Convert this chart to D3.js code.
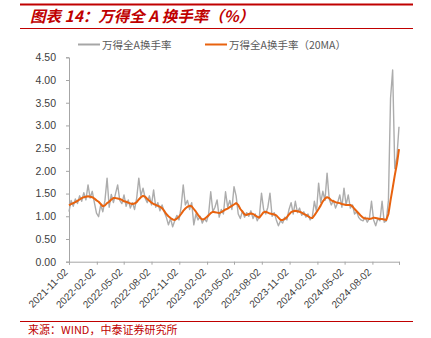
<!DOCTYPE html>
<html><head><meta charset="utf-8">
<script src="https://cdn.jsdelivr.net/npm/d3@7"></script>
<style>
html,body{margin:0;padding:0;background:#fff;}
svg{display:block;}
</style></head>
<body>
<svg id="c" width="431" height="338"></svg>
<script>
// ---- data (weekly readings from the picture) ----
const startDate = "2021-11-02";
const stepDays = 7;
const turnover = [
1.10,1.35,1.22,1.38,1.28,1.45,1.33,1.52,1.36,1.69,
1.40,1.55,1.30,1.07,0.99,1.25,1.10,1.35,1.84,1.20,
1.48,1.30,1.50,1.69,1.35,1.28,1.47,1.22,1.36,1.18,
1.30,1.15,1.40,1.84,1.45,1.62,1.40,1.30,1.45,1.25,
1.58,1.20,1.30,1.12,1.25,1.10,0.98,0.81,0.95,0.77,
0.90,1.02,0.92,1.20,1.69,1.25,1.35,1.15,1.30,0.81,
1.05,0.92,1.00,0.85,0.95,0.88,1.05,1.54,1.10,1.20,
1.36,0.98,1.15,1.05,1.54,1.20,1.35,1.15,1.65,1.45,
1.05,0.95,1.12,0.98,1.08,1.00,1.12,0.95,1.05,0.90,
1.00,1.51,1.15,1.05,1.20,1.51,1.00,1.08,0.92,0.79,
0.90,0.85,0.98,0.92,1.15,1.30,1.05,1.33,1.08,1.18,
1.02,1.10,0.98,1.05,0.92,0.98,1.33,1.10,1.73,1.30,
1.55,1.35,1.95,1.38,1.25,1.35,1.18,1.30,1.47,1.20,
1.62,1.25,1.47,1.18,1.25,1.05,1.10,0.97,0.92,0.90,
0.98,0.87,0.95,1.33,0.92,0.79,0.95,0.90,1.33,0.87,
0.90,1.35,3.60,4.22,2.05,2.30,2.97
];
const turnoverMA20 = [
1.24,1.27,1.29,1.31,1.34,1.37,1.40,1.42,1.43,1.44,
1.43,1.42,1.39,1.35,1.32,1.27,1.22,1.24,1.29,1.32,
1.37,1.40,1.40,1.39,1.38,1.36,1.33,1.32,1.30,1.28,
1.27,1.28,1.31,1.37,1.42,1.45,1.43,1.38,1.34,1.30,
1.27,1.25,1.23,1.21,1.18,1.12,1.05,1.00,0.96,0.93,
0.92,0.95,0.99,1.05,1.12,1.17,1.21,1.23,1.22,1.16,
1.10,1.03,0.97,0.93,0.94,0.98,1.02,1.07,1.10,1.09,
1.08,1.07,1.09,1.12,1.15,1.17,1.20,1.23,1.26,1.29,
1.25,1.16,1.10,1.04,1.03,1.05,1.06,1.05,1.02,0.99,
0.97,1.03,1.09,1.10,1.08,1.06,1.05,1.04,1.02,0.97,
0.92,0.92,0.94,0.98,1.04,1.09,1.11,1.12,1.11,1.10,
1.08,1.05,1.03,1.00,0.97,0.96,1.02,1.09,1.16,1.24,
1.33,1.39,1.42,1.40,1.35,1.33,1.31,1.30,1.29,1.27,
1.26,1.25,1.25,1.25,1.22,1.16,1.11,1.06,1.01,0.97,
0.95,0.95,0.94,0.95,0.97,0.96,0.95,0.94,0.94,0.93,
0.92,1.05,1.35,1.62,1.90,2.15,2.48
];
const xTickLabels = ["2021-11-02","2022-02-02","2022-05-02","2022-08-02","2022-11-02","2023-02-02",
  "2023-05-02","2023-08-02","2023-11-02","2024-02-02","2024-05-02","2024-08-02"];
const yTicks = [0,0.5,1,1.5,2,2.5,3,3.5,4,4.5];
const seriesNames = ["万得全A换手率","万得全A换手率（20MA）"];
const titleText = "图表 14：万得全 A 换手率（%）";
const sourceText = "来源：WIND，中泰证券研究所";

// ---- drawing ----
const parse = d3.timeParse("%Y-%m-%d");
const t0 = parse(startDate);
const dates = turnover.map((_, i) => d3.timeDay.offset(t0, i * stepDays));
const svg = d3.select("#c");
const red = "#c00000";
const numFont = "'Liberation Sans', Arial, sans-serif";
const cjkFont = "'Noto Sans CJK SC', sans-serif";

const plotL = 69, plotR = 399, plotT = 57.3, plotB = 261.7;
const x = d3.scaleTime().domain([t0, dates[dates.length - 1]]).range([plotL, plotR]);
const y = d3.scaleLinear().domain([0, 4.5]).range([plotB, plotT]);

// header
svg.append("line").attr("x1",20).attr("x2",413).attr("y1",4.5).attr("y2",4.5)
  .attr("stroke",red).attr("stroke-width",2);
svg.append("text").attr("x",30).attr("y",22).text(titleText)
  .attr("fill",red).attr("font-family",cjkFont).attr("font-size",15.5)
  .attr("font-weight","bold").attr("font-style","italic");
svg.append("line").attr("x1",20).attr("x2",413).attr("y1",28.5).attr("y2",28.5)
  .attr("stroke",red).attr("stroke-width",1);

// legend
const legend = [
  {name: seriesNames[0], color:"#a6a6a6", x:78},
  {name: seriesNames[1], color:"#e8620e", x:205}
];
legend.forEach(l => {
  svg.append("line").attr("x1",l.x).attr("x2",l.x+22).attr("y1",44.5).attr("y2",44.5)
    .attr("stroke",l.color).attr("stroke-width",2);
  svg.append("text").attr("x",l.x+24).attr("y",48.5).text(l.name)
    .attr("fill","#595959").attr("font-family",cjkFont).attr("font-size",10.5);
});

// y axis
const yAxis = svg.append("g").attr("transform",`translate(${plotL},0)`)
  .call(d3.axisLeft(y).tickValues(yTicks).tickFormat(d3.format(".2f")).tickSize(3).tickPadding(10));
yAxis.select(".domain").attr("stroke","#a6a6a6");
yAxis.selectAll(".tick line").attr("stroke","#a6a6a6");
yAxis.selectAll("text").attr("fill","#404040").attr("font-family",numFont).attr("font-size",10.5);

// x axis
const tickDates = xTickLabels.map(parse).concat([dates[dates.length-1]]);
const xAxis = svg.append("g").attr("transform",`translate(0,${plotB})`)
  .call(d3.axisBottom(x).tickValues(tickDates).tickSize(3).tickFormat((d,i)=> i < xTickLabels.length ? xTickLabels[i] : ""));
xAxis.select(".domain").attr("stroke","#a6a6a6");
xAxis.selectAll(".tick line").attr("stroke","#a6a6a6");
xAxis.selectAll("text").attr("fill","#404040").attr("font-family",numFont).attr("font-size",10)
  .attr("text-anchor","end").attr("dy",0).attr("y",0)
  .attr("transform","translate(-1,11) rotate(-45)");

// lines
const line = vals => d3.line().x((d,i)=>x(dates[i])).y(d=>y(d))(vals);
svg.append("path").attr("d",line(turnover)).attr("fill","none")
  .attr("stroke","#acacac").attr("stroke-width",1.4).attr("stroke-linejoin","round");
svg.append("path").attr("d",line(turnoverMA20)).attr("fill","none")
  .attr("stroke","#e8620e").attr("stroke-width",2).attr("stroke-linejoin","round");

// footer
svg.append("line").attr("x1",20).attr("x2",413).attr("y1",321.5).attr("y2",321.5)
  .attr("stroke",red).attr("stroke-width",1);
svg.append("text").attr("x",28).attr("y",334).text(sourceText)
  .attr("fill",red).attr("font-family",cjkFont).attr("font-size",11);
</script>
</body></html>
